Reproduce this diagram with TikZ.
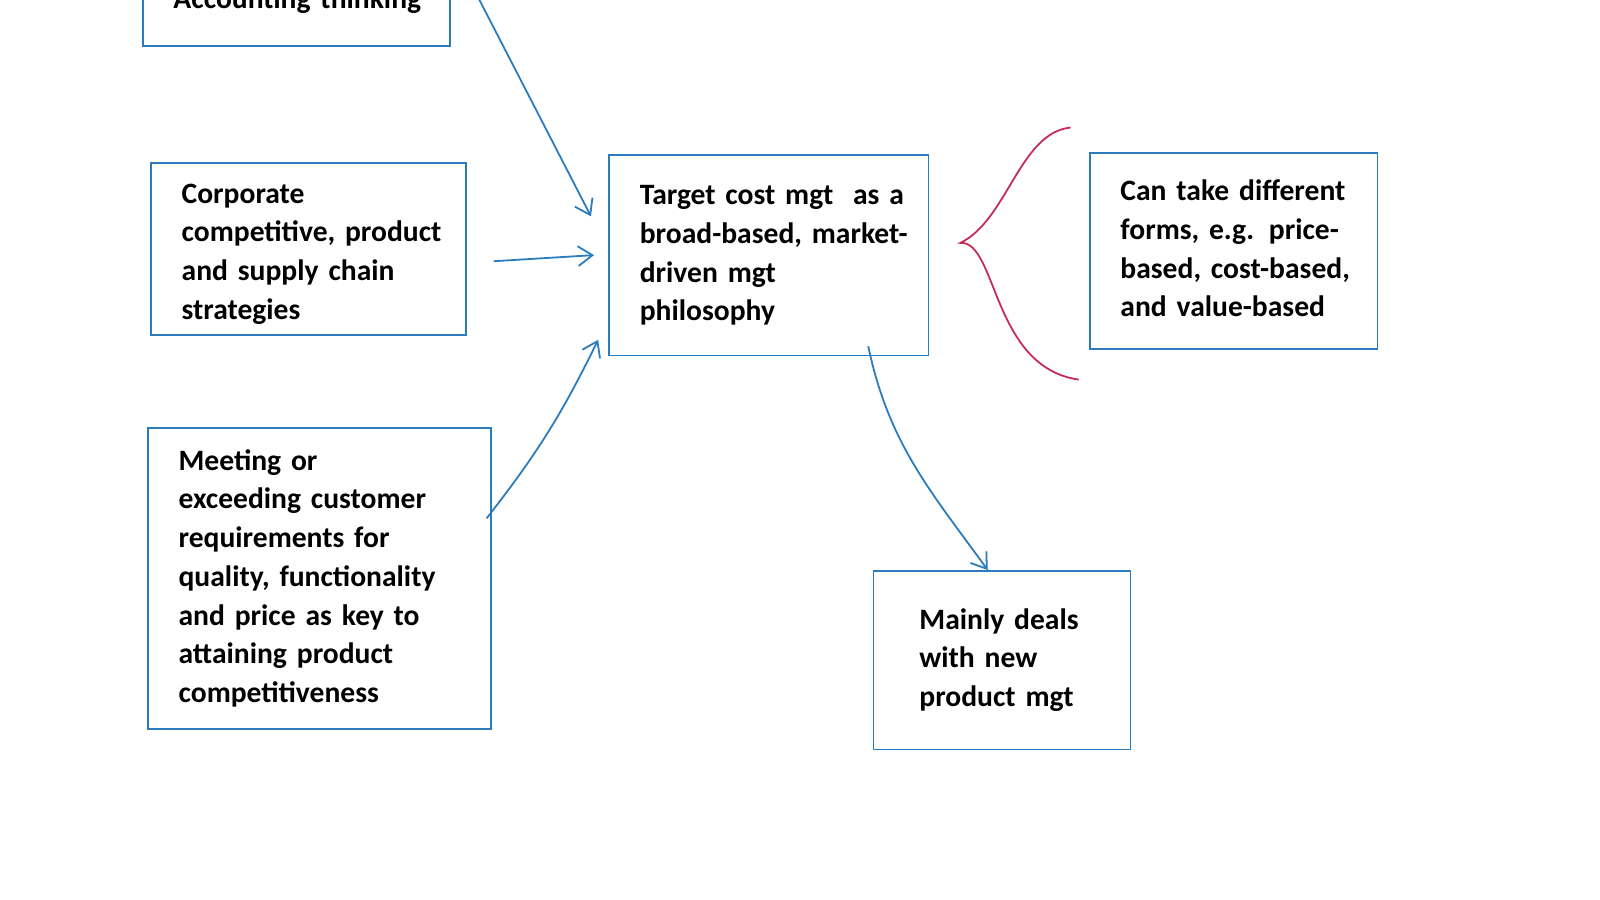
\documentclass[tikz,border=0pt]{standalone}
\usepackage{fontspec}
\setmainfont{Carlito}
\usepackage{xcolor}
\usepackage{tikz}
\usetikzlibrary{arrows.meta, positioning, calc}

\definecolor{penblue}{RGB}{42,124,190}
\definecolor{penred}{RGB}{196,45,88}
\newcommand{\notelines}[1]{\begin{tabular}{@{}l@{}}#1\end{tabular}}

\begin{document}
\begin{tikzpicture}[
    x=0.02cm, y=-0.02cm,
    font=\fontsize{16.5}{21.6}\selectfont\bfseries,
    >={Straight Barb[length=8pt,width=11pt]},
    % Node styles - pen boxes
    notebox/.style={draw=penblue, line width=1pt, align=left, inner xsep=0.6cm, inner ysep=0pt, text=black},
    arrow/.style={->, line width=1pt, color=penblue},
    bracepen/.style={line width=1pt, color=penred}
]
\useasboundingbox (0,0) rectangle (1568,882);

% ========== LEFT COLUMN: Drivers ==========
\node[notebox, text width=4.82cm, minimum height=1.76cm] (acct) at (290.5,1) {\notelines{Accounting thinking}};
\node[notebox, text width=4.98cm, minimum height=3.36cm] (corp) at (302.5,244) {\notelines{\\[-16.6pt]Corporate\\competitive, product\\and supply chain\\strategies}};
\node[notebox, text width=5.52cm, minimum height=5.9cm] (meet) at (313,567) {\notelines{Meeting or\\exceeding customer\\requirements for\\quality, functionality\\and price as key to\\attaining product\\competitiveness}};

% ========== CENTRE: Philosophy ==========
\node[notebox, text width=5.06cm, minimum height=3.94cm] (tcm) at (753.5,250) {\notelines{Target cost mgt~ as a\\broad-based, market-\\driven mgt\\philosophy}};

% ========== RIGHT: Forms ==========
\node[notebox, text width=4.44cm, minimum height=3.84cm] (forms) at (1209,246) {\notelines{Can take different\\forms, e.g. price-\\based, cost-based,\\and value-based}};

% ========== BOTTOM: Scope ==========
\node[notebox, inner xsep=0.9cm, text width=3.24cm, minimum height=3.5cm] (newprod) at (982,647) {\notelines{Mainly deals\\with new\\product mgt}};

% ========== ARROWS ==========
\draw[arrow] ([xshift=0.54cm,yshift=0.06cm]acct.east) -- ([xshift=-0.34cm,yshift=0.76cm]tcm.west);
\draw[arrow] ([xshift=0.52cm,yshift=-0.24cm]corp.east) -- ([xshift=-0.28cm,yshift=0cm]tcm.west);
\draw[arrow] ([xshift=-0.1cm,yshift=1.18cm]meet.east) to[bend right=6] ([xshift=-0.2cm,yshift=-1.66cm]tcm.west);
\draw[arrow] ([xshift=-1.2cm,yshift=0.2cm]tcm.south east) to[out=-78,in=126] ([xshift=-0.28cm]newprod.north);

% Brace towards the forms
\coordinate (tip) at ($(forms.west)+(-126,-8)$);
\draw[bracepen] ($(forms.west)+(-18,-121)$) .. controls ($(forms.west)+(-68,-116)$) and ($(forms.west)+(-80,-30)$) .. (tip)
    .. controls ($(forms.west)+(-90,-10)$) and ($(forms.west)+(-95,114)$) .. ($(forms.west)+(-10,126)$);

\end{tikzpicture}
\end{document}
